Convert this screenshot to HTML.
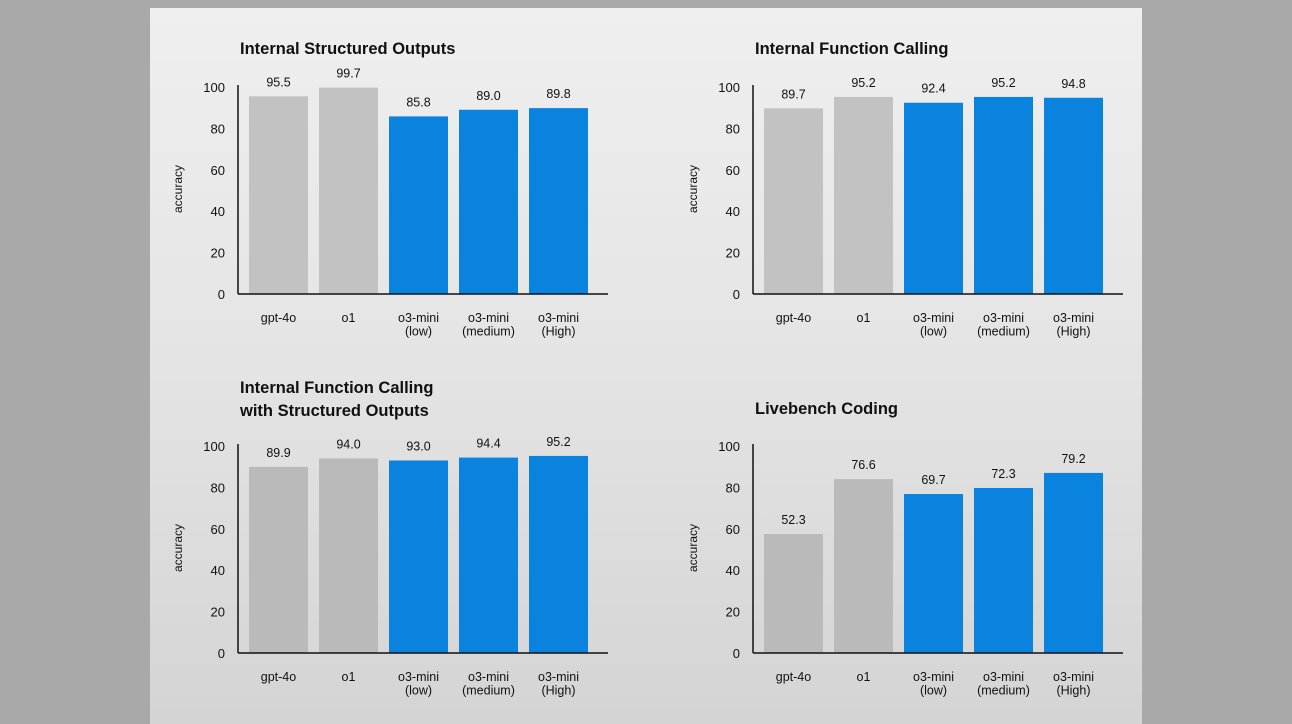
<!DOCTYPE html>
<html><head><meta charset="utf-8"><style>
html,body{margin:0;padding:0;width:1292px;height:724px;overflow:hidden;background:#a9a9a9}
#panel{position:absolute;left:150px;top:8px;width:992px;height:716px;background:linear-gradient(#efefef,#e4e4e4 50%,#d4d4d4)}
svg{position:absolute;left:0;top:0}
text{font-family:"Liberation Sans","DejaVu Sans",sans-serif;fill:#111}
</style></head><body>
<div id="panel"></div>
<svg id="chart" width="1292" height="724"></svg>
<script>
const categories=[["gpt-4o"],["o1"],["o3-mini","(low)"],["o3-mini","(medium)"],["o3-mini","(High)"]];
const ticks=[0,20,40,60,80,100];
const titles=[["Internal Structured Outputs"],["Internal Function Calling"],["Internal Function Calling","with Structured Outputs"],["Livebench Coding"]];
const valuesSO=[95.5,99.7,85.8,89.0,89.8];
const valuesFC=[89.7,95.2,92.4,95.2,94.8];
const valuesFCSO=[89.9,94.0,93.0,94.4,95.2];
const valuesLB=[57.5,84.0,76.8,79.7,87.0];
const labelsSO=["95.5","99.7","85.8","89.0","89.8"];
const labelsFC=["89.7","95.2","92.4","95.2","94.8"];
const labelsFCSO=["89.9","94.0","93.0","94.4","95.2"];
const labelsLB=["52.3","76.6","69.7","72.3","79.2"];

const NS="http://www.w3.org/2000/svg";
const svg=document.getElementById('chart');
function mk(tag,attrs,parent,txt){const e=document.createElementNS(NS,tag);for(const k in attrs)e.setAttribute(k,attrs[k]);if(txt!==undefined)e.textContent=txt;parent.appendChild(e);return e;}
const panels=[
 {ax:238,base:294,vals:valuesSO,labs:labelsSO,ty:[54],name:'structured-outputs'},
 {ax:753,base:294,vals:valuesFC,labs:labelsFC,ty:[54],name:'function-calling'},
 {ax:238,base:653,vals:valuesFCSO,labs:labelsFCSO,ty:[393,416],name:'function-calling-structured'},
 {ax:753,base:653,vals:valuesLB,labs:labelsLB,ty:[414],name:'livebench-coding'}];
panels.forEach((p,pi)=>{
 const g=mk('g',{},svg);
 
 
 const y=v=>p.base-v*2.07;
 const bx=i=>p.ax+11+i*70;
 titles[pi].forEach((t,j)=>{const e=mk('text',{x:p.ax+2,y:p.ty[j],'font-size':16.5,'font-weight':'bold',fill:'#1a1a1a'},g,t);
  });
 p.vals.forEach((v,i)=>{
  const gray=i<2;
  const r=mk('rect',{x:bx(i),y:y(v),width:59,height:p.base-y(v),fill:gray?(pi>=2?'#bababa':'#c2c2c2'):'#0a83df'},g);
  
  
  const l=mk('text',{x:bx(i)+29.5,y:y(v)-10,'text-anchor':'middle','font-size':12.5},g,p.labs[i]);
  
  categories[i].forEach((c,j)=>{const t=mk('text',{x:bx(i)+29.5,y:p.base+28+j*13.5,'text-anchor':'middle','font-size':12.5},g,c);
   });
 });
 ticks.forEach(t=>{const e=mk('text',{x:p.ax-13,y:y(t)+5,'text-anchor':'end','font-size':13},g,t);
  });
 const ya=mk('line',{x1:p.ax,y1:p.base-209,x2:p.ax,y2:p.base,stroke:'#111','stroke-width':1.5},g);
 
 const xa=mk('line',{x1:p.ax,y1:p.base,x2:p.ax+370,y2:p.base,stroke:'#111','stroke-width':1.5},g);
 
 const yt=mk('text',{x:0,y:0,'text-anchor':'middle','font-size':12,transform:`translate(${p.ax-56},${p.base-105}) rotate(-90)`},g,'accuracy');
 
});
</script>
</body></html>
